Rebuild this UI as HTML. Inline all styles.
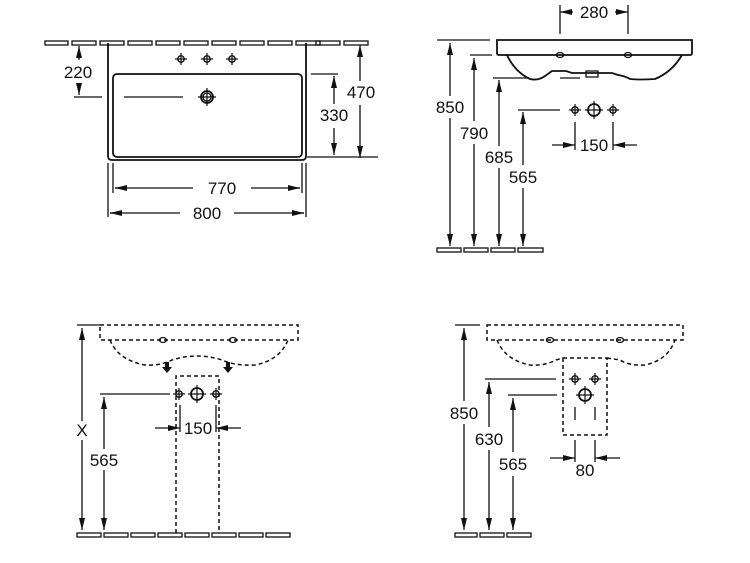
<!DOCTYPE html>
<html><head><style>
html,body{margin:0;padding:0;background:#fff;}
svg{display:block;}
text{font-family:"Liberation Sans",sans-serif;font-size:17px;fill:#111;}
</style></head><body>
<svg width="750" height="563" viewBox="0 0 750 563" xmlns="http://www.w3.org/2000/svg">
<defs>
<marker id="a" viewBox="0 0 12 6" refX="12" refY="3" markerWidth="12" markerHeight="6" markerUnits="userSpaceOnUse" orient="auto-start-reverse"><path d="M0,0 L12,3 L0,6 Z" fill="#111"/></marker>
<g id="h"><circle r="3.2" fill="none" stroke="#111" stroke-width="1.4"/><path d="M-6,0H6M0,-6V6" stroke="#111" stroke-width="1.2"/></g>
<g id="H"><circle r="6" fill="none" stroke="#111" stroke-width="1.8"/><path d="M-9,0H9M0,-9V9" stroke="#111" stroke-width="1.2"/></g>
</defs>
<g stroke="#111" fill="none" stroke-width="1.3">
<!-- PANEL 1 -->
<g>
<rect x="45" y="41" width="23" height="4"/><rect x="72" y="41" width="24" height="4"/>
<rect x="100" y="41" width="24" height="4"/><rect x="128" y="41" width="24" height="4"/>
<rect x="156" y="41" width="24" height="4"/><rect x="184" y="41" width="24" height="4"/>
<rect x="212" y="41" width="24" height="4"/><rect x="240" y="41" width="24" height="4"/>
<rect x="268" y="41" width="24" height="4"/><rect x="296" y="41" width="24" height="4"/>
<rect x="316" y="41" width="24" height="4"/><rect x="344" y="41" width="24" height="4"/>
</g>
<path d="M108,43 V156 Q108,160 112,160 H302 Q306,160 306,156 V43" stroke-width="1.8"/>
<rect x="113" y="74" width="189" height="83" rx="4" stroke-width="1.8"/>
<use href="#h" x="181" y="59"/><use href="#h" x="207" y="59"/><use href="#h" x="232" y="59"/>
<use href="#H" x="207" y="97"/><circle cx="207" cy="97" r="4"/>
<path d="M124,97H183"/>
<path d="M74,97H102"/>
<path d="M79,46V60M79,84V95" marker-start="url(#a)" marker-end="url(#a)"/>
<path d="M311,74H338M307,157H378"/>
<path d="M334,76V104M334,128V155" marker-start="url(#a)" marker-end="url(#a)"/>
<path d="M360,45V81M360,105V158" marker-start="url(#a)" marker-end="url(#a)"/>
<path d="M108,163V217M306,163V217M113,163V193M302,163V193"/>
<path d="M115,188H193M251,188H300"/>
<path d="M300,188H288" marker-start="url(#a)"/>
<path d="M110,213H180M234,213H304"/>
<path d="M110,213H122" marker-start="url(#a)"/><path d="M304,213H292" marker-start="url(#a)"/>
<path d="M115,188H127" marker-start="url(#a)"/>
</g>
<text x="78" y="78" text-anchor="middle">220</text>
<text x="334" y="121" text-anchor="middle">330</text>
<text x="361" y="98" text-anchor="middle">470</text>
<text x="222" y="194" text-anchor="middle">770</text>
<text x="207" y="219" text-anchor="middle">800</text>

<!-- PANEL 2 -->
<g stroke="#111" fill="none" stroke-width="1.3">
<rect x="437" y="248" width="24" height="4"/><rect x="464" y="248" width="24" height="4"/>
<rect x="491" y="248" width="24" height="4"/><rect x="518" y="248" width="25" height="4"/>
<path d="M497,40 H692 V53 Q692,55 690,55 H499 Q497,55 497,53 Z" stroke-width="1.8"/>
<path d="M507,55 Q515,72 530,79 Q538,81 545,76 L552,71 H566 L572,73 Q600,73 612,73 L618,75 Q625,76 630,79 Q640,80 655,79 Q672,72 682,55" stroke-width="1.8"/>
<rect x="586" y="71" width="12" height="6"/>
<ellipse cx="560" cy="55" rx="3.5" ry="2.5"/><ellipse cx="628" cy="55" rx="3.5" ry="2.5"/>
<path d="M560,5V34M628,5V34"/>
<path d="M573,12H560" marker-end="url(#a)"/><path d="M615,12H628" marker-end="url(#a)"/>
<path d="M437,40H490M470,55H492M493,78H527M560,78H580M518,110H560"/>
<path d="M450,43V96M450,118V246" marker-start="url(#a)" marker-end="url(#a)"/>
<path d="M474,58V121M474,144V246" marker-start="url(#a)" marker-end="url(#a)"/>
<path d="M499,80V146M499,168V246" marker-start="url(#a)" marker-end="url(#a)"/>
<path d="M523,112V165M523,188V246" marker-start="url(#a)" marker-end="url(#a)"/>
<use href="#h" x="575" y="110"/><use href="#H" x="594" y="110"/><use href="#h" x="613" y="110"/>
<path d="M575,122V150M613,122V150"/>
<path d="M552,145H575" marker-end="url(#a)"/><path d="M637,145H613" marker-end="url(#a)"/>
</g>
<text x="594" y="18" text-anchor="middle">280</text>
<text x="450" y="113" text-anchor="middle">850</text>
<text x="474" y="139" text-anchor="middle">790</text>
<text x="499" y="163" text-anchor="middle">685</text>
<text x="523" y="183" text-anchor="middle">565</text>
<text x="594" y="151" text-anchor="middle">150</text>

<!-- PANEL 3 -->
<g stroke="#111" fill="none" stroke-width="1.3">
<rect x="77" y="533" width="24" height="4"/><rect x="104" y="533" width="24" height="4"/>
<rect x="131" y="533" width="24" height="4"/><rect x="158" y="533" width="24" height="4"/>
<rect x="185" y="533" width="24" height="4"/><rect x="212" y="533" width="24" height="4"/>
<rect x="239" y="533" width="24" height="4"/><rect x="266" y="533" width="24" height="4"/>
<g stroke-dasharray="4 3" stroke-width="1.5">
<path d="M100,325H298V340H100Z"/>
<path d="M110,340 Q118,360 145,365 Q160,366 172,360 Q197,352 222,360 Q235,366 255,365 Q280,360 288,340"/>
<path d="M176,533V376H219V533"/>
</g>
<ellipse cx="163" cy="340" rx="3.5" ry="2.5"/><ellipse cx="233" cy="340" rx="3.5" ry="2.5"/>
<path d="M77,325H100M100,394H170"/>
<path d="M82,328V421M82,440V530" marker-start="url(#a)" marker-end="url(#a)"/>
<path d="M104,397V449M104,470V530" marker-start="url(#a)" marker-end="url(#a)"/>
<use href="#h" x="179" y="394"/><use href="#H" x="197" y="394"/><use href="#h" x="216" y="394"/>
<path d="M180,405V432M216,405V432"/>
<path d="M155,428H180" marker-end="url(#a)"/><path d="M241,428H216" marker-end="url(#a)"/>
</g>
<path d="M165,362h4v5h3l-5,6l-5,-6h3z" fill="#111"/>
<path d="M226,362h4v5h3l-5,6l-5,-6h3z" fill="#111"/>
<text x="82" y="436" text-anchor="middle">X</text>
<text x="104" y="466" text-anchor="middle">565</text>
<text x="198" y="434" text-anchor="middle">150</text>

<!-- PANEL 4 -->
<g stroke="#111" fill="none" stroke-width="1.3">
<rect x="455" y="533" width="22" height="4"/><rect x="480" y="533" width="24" height="4"/>
<rect x="507" y="533" width="24" height="4"/>
<g stroke-dasharray="4 3" stroke-width="1.5">
<path d="M487,325H683V340H487Z"/>
<path d="M497,340 Q505,360 530,365 Q545,366 556,360 L563,358 M607,358 L620,360 Q630,366 645,365 Q668,360 675,340"/>
<path d="M563,358V435H607V358Z"/>
</g>
<ellipse cx="550" cy="340" rx="3.5" ry="2.5"/><ellipse cx="620" cy="340" rx="3.5" ry="2.5"/>
<path d="M455,325H480M485,379H556M508,395H557"/>
<path d="M464,328V401M464,424V530" marker-start="url(#a)" marker-end="url(#a)"/>
<path d="M489,382V427M489,450V530" marker-start="url(#a)" marker-end="url(#a)"/>
<path d="M513,398V452M513,476V530" marker-start="url(#a)" marker-end="url(#a)"/>
<use href="#h" x="575" y="379"/><use href="#h" x="595" y="379"/><use href="#H" x="585" y="395"/>
<path d="M575,407V420M595,407V420M575,440V462M595,440V462"/>
<path d="M550,458H575" marker-end="url(#a)"/><path d="M620,458H595" marker-end="url(#a)"/>
</g>
<text x="464" y="419" text-anchor="middle">850</text>
<text x="489" y="445" text-anchor="middle">630</text>
<text x="513" y="470" text-anchor="middle">565</text>
<text x="585" y="476" text-anchor="middle">80</text>
</svg>
</body></html>
